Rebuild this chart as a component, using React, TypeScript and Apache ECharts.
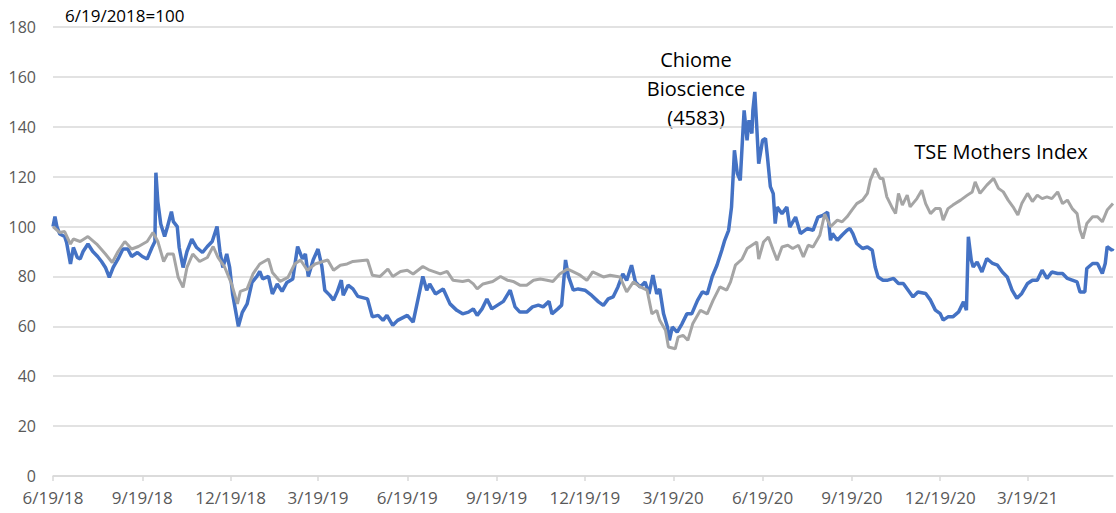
import React, { useEffect, useRef } from "react";
import * as echarts from "echarts";

// Days since 6/19/2018 (base = 100)
const chiomeDays = [0,2,4,7,12,14,18,21,25,28,31,36,41,46,50,54,58,62,67,72,77,81,87,92,97,102,105,106,108,111,115,118,122,124,128,130,134,138,143,148,154,159,164,169,172,175,179,182,185,191,195,200,205,210,213,216,222,226,231,236,241,247,252,257,260,263,268,273,277,280,285,289,293,297,299,304,309,314,324,329,335,340,344,350,355,365,371,375,381,385,388,394,402,409,416,422,428,433,437,442,447,452,458,464,471,476,481,488,494,500,505,511,514,520,524,528,531,536,541,548,555,562,567,572,577,582,587,591,596,600,605,610,614,618,622,625,629,633,635,638,643,648,653,658,664,669,674,679,684,689,692,696,699,701,702,705,708,711,712,715,717,720,721,723,725,727,731,734,736,739,742,744,746,751,756,759,765,770,777,783,788,793,798,801,803,808,813,818,821,824,828,834,839,844,847,850,855,860,866,871,876,881,886,891,899,904,909,914,917,922,927,933,938,941,943,946,948,952,957,962,968,973,978,983,988,993,998,1004,1009,1014,1019,1024,1029,1035,1040,1045,1050,1055,1058,1063,1065,1071,1076,1081,1084,1086,1091,1092];
const chiomeValues = [100,104,100,97,96,93.6,85,91.6,87.6,87,90,93,90,88,86,83.6,79.6,83.6,87,91,91,88,89.6,88,87,91.6,94,121.6,110,101,96,100,106,102,100,91.6,83.6,90,95,91.6,89.6,92,94,100,90,83.6,89,83.6,73,60,65.6,69,77.6,80,82,79,80,73,77,74,77.6,79,92,87,89,80,86.6,91,84,74.5,72.5,70.5,74,78.5,72.5,76.5,75,72,71,63.8,64.4,62.4,64.4,60.4,62.4,64.4,61.7,69,80,74.5,77,73,75,69,66.4,65,65.7,67,64.4,67,71,67,68.5,70,74.5,67.8,65.7,65.7,67.8,68.5,67.8,70,65,67,68.5,86.6,80,74.5,75,74.5,72.4,69.8,68.4,71,71.8,75.8,81,78.4,84.5,77.8,75.8,77.8,73,80.5,73,75,65,59.7,54.4,59.7,57.7,61,65,65,70.4,73.8,73,79.8,84.5,90.5,94.5,98.5,107.8,122.6,130.6,121.2,118.5,140,146.6,134.6,142.6,137.3,146.6,154,140,125.2,134.6,135.3,128,116,113.2,101.2,107.8,105.2,107.8,99.8,103.8,97.2,99.2,98.5,103.8,104.5,105.8,94.5,97.2,94.5,96.6,98.5,99.2,97.2,93.2,91.2,91.8,90.5,83.8,79.8,78.5,78.5,79.2,77.2,77.2,74.5,71.8,73.8,73.2,70.5,66.5,65.1,62.5,63.8,63.8,65.8,69.8,66.5,95.9,86.5,83.8,85.8,81.8,87.2,85.2,84.5,81.8,79.8,74.5,71.2,73.2,77.2,78.5,78.5,82.5,79.2,81.8,81.2,81.2,79.2,78.5,77.8,73.8,73.8,83.2,85.2,85.2,81.2,85.2,91.9,90.5,91.2];

const mothersDays = [0,7,12,18,21,28,36,45,54,61,67,74,81,88,97,103,108,114,118,124,129,134,138,144,151,159,165,170,177,184,190,193,200,206,213,222,226,234,242,249,255,262,270,278,283,289,296,303,309,324,329,337,345,350,358,365,371,381,388,399,406,412,422,428,433,437,443,453,461,468,474,481,488,495,502,509,515,522,530,533,543,550,556,567,574,584,591,598,605,612,617,622,625,631,634,641,644,649,654,659,667,674,680,687,694,698,703,710,715,720,725,727,732,737,742,746,751,757,762,768,773,778,783,790,795,801,808,813,818,823,828,834,839,842,847,852,855,859,865,868,871,875,880,883,890,895,899,904,909,914,917,922,927,935,942,947,950,955,962,969,974,979,984,989,994,998,1004,1009,1014,1019,1024,1029,1035,1040,1045,1050,1055,1058,1061,1065,1071,1076,1081,1086,1092];
const mothersValues = [100,97.6,98,93,95,94,96,93,89,85.6,90,94,91,92,94,97.6,94,86,89,89,79.6,75.6,83.6,89,86,87.6,92,87.6,83.6,77,69,74,75,81,85,87,81.6,78,79.6,85,86.6,82.5,85,86,86.6,82.5,84.5,85,86,86.6,80.5,80,83,80,82,82.5,81,84,82.5,81,82,78.5,78,78.5,77,75,77,78,80,78.5,78,76.5,76.5,78.5,79,78.5,78,81,83,82.4,80.5,78.4,81.8,79.8,80.5,79.8,73.8,77.8,75.8,74.5,65,66.4,62.4,58.4,51.7,51,55.7,56.4,54.4,61,66.4,65,70.4,75.8,74.5,77.8,84.5,87,91.2,92.5,93.8,87,93.8,95.8,90.5,86.5,91.8,92.5,91.2,92.5,87.8,92.5,91.8,96.5,105,100,102.6,101.9,103.9,106.6,109.2,110.6,113.3,118.6,123.3,119.3,119.3,111.9,107.2,105.2,113.3,108.6,112.6,107.9,111.2,114.6,109.2,105.2,107.2,107.2,102.6,107.2,108.6,110.6,112.6,113.9,117.9,113.3,116.6,119.3,115.3,113.9,110.6,107.9,104.6,109.2,113.3,110,112.6,111.2,111.9,111.2,113.9,109.2,110.6,107.2,105.2,98.5,95.2,101.2,103.9,103.9,101.9,106.6,109.2];

const tickDays = [0, 92, 183, 273, 365, 457, 548, 639, 731, 823, 914, 1004];
const tickLabels = ["6/19/18", "9/19/18", "12/19/18", "3/19/19", "6/19/19", "9/19/19", "12/19/19", "3/19/20", "6/19/20", "9/19/20", "12/19/20", "3/19/21"];
const lastDay = 1092;

const baseLabel = "6/19/2018=100";
const chiomeLabel = "Chiome\nBioscience\n(4583)";
const mothersLabel = "TSE Mothers Index";

const FONT = "'Open Sans', 'Noto Sans', sans-serif";

export default function App() {
  const ref = useRef<HTMLDivElement>(null);
  useEffect(() => {
    document.body.style.margin = "0";
    if (!ref.current) return;
    const chart = echarts.init(ref.current, null, { renderer: "svg" });
    const chiome = chiomeDays.map((d, i) => [d, chiomeValues[i]]);
    const mothers = mothersDays.map((d, i) => [d, mothersValues[i]]);
    chart.setOption({
      animation: false,
      backgroundColor: "#ffffff",
      textStyle: { fontFamily: FONT },
      grid: { left: 53, right: 3, top: 27, bottom: 37, containLabel: false },
      xAxis: {
        type: "value",
        min: 0,
        max: lastDay,
        splitLine: { show: false },
        axisLine: { show: true, lineStyle: { color: "#D9D9D9", width: 1.5 } },
        axisTick: { show: true, customValues: tickDays, length: 5, lineStyle: { color: "#D9D9D9", width: 1.5 } },
        axisLabel: {
          customValues: tickDays,
          formatter: (v: number) => {
            const i = tickDays.indexOf(Math.round(v));
            return i >= 0 ? tickLabels[i] : "";
          },
          color: "#595959",
          fontSize: 17,
          margin: 13,
          fontFamily: FONT,
        },
      },
      yAxis: {
        type: "value",
        min: 0,
        max: 180,
        interval: 20,
        axisLine: { show: false },
        axisTick: { show: false },
        axisLabel: { color: "#595959", fontSize: 16, margin: 17, fontFamily: FONT },
        splitLine: { lineStyle: { color: "#D9D9D9", width: 1.5 } },
      },
      series: [
        {
          name: "Chiome Bioscience (4583)",
          type: "line",
          data: chiome,
          showSymbol: false,
          lineStyle: { color: "#4472C4", width: 3.5 },
          itemStyle: { color: "#4472C4" },
        },
        {
          name: mothersLabel,
          type: "line",
          data: mothers,
          showSymbol: false,
          lineStyle: { color: "#A5A5A5", width: 3 },
          itemStyle: { color: "#A5A5A5" },
        },
      ],
      graphic: [
        {
          type: "text",
          left: 65,
          top: 7,
          style: { text: baseLabel, fontSize: 17, fill: "#000000", fontFamily: FONT },
        },
        {
          type: "text",
          x: 696,
          y: 45,
          style: {
            text: chiomeLabel,
            fontSize: 20,
            lineHeight: 29,
            fill: "#000000",
            align: "center",
            fontFamily: FONT,
          },
        },
        {
          type: "text",
          x: 1001,
          y: 141,
          style: { text: mothersLabel, fontSize: 20, fill: "#000000", align: "center", fontFamily: FONT },
        },
      ],
    });
    return () => chart.dispose();
  }, []);
  return <div ref={ref} style={{ width: 1116, height: 513 }} />;
}
